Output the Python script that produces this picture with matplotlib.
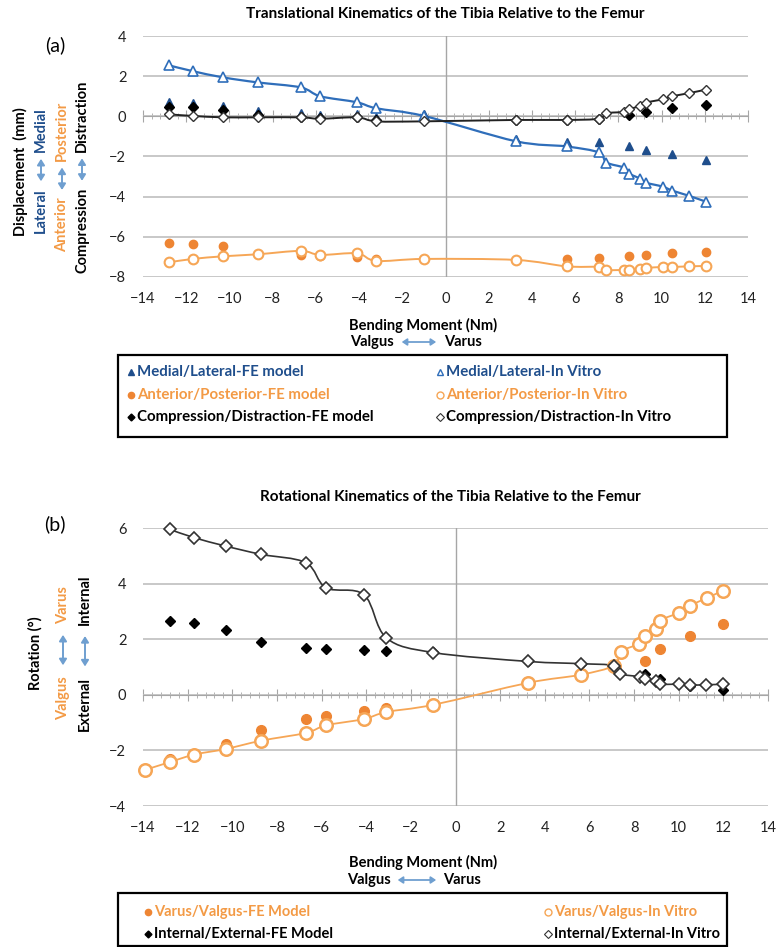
import numpy as np
import matplotlib
matplotlib.use("Agg")
import matplotlib.pyplot as plt
from matplotlib.path import Path
from matplotlib.patches import PathPatch, FancyArrowPatch, Rectangle
from matplotlib.lines import Line2D
from matplotlib.ticker import MultipleLocator, AutoMinorLocator, FixedLocator

plt.rcParams['font.family'] = ['Lato', 'DejaVu Sans']

# ---- translational kinematics (a) ----
x_iv_a = [-12.8, -11.7, -10.3, -8.7, -6.7, -5.8, -4.1, -3.2, -1.0, 3.25, 5.6, 7.1,
          7.45, 8.25, 8.5, 9.0, 9.27, 10.05, 10.5, 11.25, 12.05]
ml_iv = [2.54, 2.25, 1.94, 1.69, 1.44, 1.0, 0.7, 0.4, 0.02, -1.24, -1.5, -1.8,
         -2.3, -2.55, -2.85, -3.1, -3.3, -3.5, -3.7, -3.95, -4.25]
ap_iv = [-7.27, -7.1, -6.97, -6.87, -6.7, -6.9, -6.82, -7.2, -7.1, -7.15, -7.47, -7.5,
         -7.65, -7.65, -7.65, -7.6, -7.55, -7.5, -7.5, -7.47, -7.45]
cd_iv = [0.1, 0.02, -0.05, -0.05, -0.05, -0.12, -0.05, -0.25, -0.25, -0.18, -0.18, -0.12,
         0.15, 0.22, 0.35, 0.52, 0.68, 0.85, 1.0, 1.15, 1.33]

x_fe_a = [-12.8, -11.7, -10.3, -8.7, -6.7, -5.8, -4.1, -3.2, -1.0, 3.25, 5.6, 7.1,
          8.5, 9.27, 10.5, 12.05]
ml_fe = [0.7, 0.65, 0.52, 0.28, 0.15, 0.08, 0.12, -0.05, 0.1, -1.15, -1.3, -1.3,
         -1.5, -1.7, -1.9, -2.15]
ap_fe = [-6.3, -6.38, -6.48, -6.85, -6.9, -6.95, -7.0, -7.1, -7.1, -7.15, -7.12, -7.07,
         -6.97, -6.9, -6.82, -6.78]
cd_fe = [0.45, 0.45, 0.33, 0.05, -0.05, -0.1, -0.05, -0.2, -0.2, -0.2, -0.2, -0.15,
         0.05, 0.22, 0.42, 0.58]

# ---- rotational kinematics (b) ----
x_vv_iv = [-13.9, -12.8, -11.7, -10.3, -8.7, -6.7, -5.8, -4.1, -3.1, -1.0, 3.25, 5.6,
           7.1, 7.4, 8.2, 8.5, 8.97, 9.15, 10.0, 10.5, 11.25, 12.0]
vv_iv = [-2.7, -2.42, -2.15, -1.95, -1.65, -1.37, -1.1, -0.87, -0.62, -0.36, 0.43, 0.72,
         1.05, 1.55, 1.83, 2.1, 2.37, 2.67, 2.95, 3.2, 3.48, 3.75]
x_ie_iv = [-12.8, -11.7, -10.3, -8.7, -6.7, -5.8, -4.1, -3.1, -1.0, 3.25, 5.6, 7.1,
           7.35, 8.25, 8.47, 8.97, 9.15, 10.0, 10.5, 11.2, 12.0]
ie_iv = [5.95, 5.65, 5.35, 5.05, 4.75, 3.85, 3.6, 2.05, 1.52, 1.2, 1.12, 1.05,
         0.76, 0.65, 0.57, 0.48, 0.38, 0.38, 0.35, 0.36, 0.38]

x_fe_b = [-12.8, -11.7, -10.3, -8.7, -6.7, -5.8, -4.1, -3.1, -1.0, 3.25, 5.6, 7.1,
          8.5, 9.15, 10.5, 12.0]
vv_fe = [-2.3, -2.12, -1.77, -1.26, -0.87, -0.77, -0.58, -0.48, -0.36, 0.43, 0.72, 1.0,
         1.22, 1.65, 2.1, 2.55]
ie_fe = [2.65, 2.57, 2.33, 1.9, 1.68, 1.65, 1.6, 1.58, 1.55, 1.2, 1.12, 0.97,
         0.76, 0.57, 0.33, 0.18]

x_ticks = list(range(-14, 15, 2))

NAVY = "#1F4E8C"
BLUE = "#2F6EBA"
ORANGE_FE = "#EE8533"
ORANGE_IV = "#F6A656"
ORANGE_TXT = "#F39A45"
ARROW = "#6F9FD0"
GRID = "#BFBFBF"

W, H = 777, 947
fig = plt.figure(figsize=(W / 100, H / 100), dpi=100)


def fx(px):
    return px / W


def fy(py):
    return 1 - py / H


def smooth(ax, xs, ys, color, lw):
    # Catmull-Rom curve through the points, written as cubic Bezier segments
    p = np.column_stack([xs, ys]).astype(float)
    verts = [p[0]]
    codes = [Path.MOVETO]
    n = len(p)
    for i in range(n - 1):
        p0 = p[i - 1] if i > 0 else p[i]
        p3 = p[i + 2] if i + 2 < n else p[i + 1]
        c1 = p[i] + (p[i + 1] - p0) / 6
        c2 = p[i + 1] - (p3 - p[i]) / 6
        verts += [c1, c2, p[i + 1]]
        codes += [Path.CURVE4] * 3
    ax.add_patch(PathPatch(Path(verts, codes), fc="none", ec=color, lw=lw, zorder=3))


def style_axes(ax, xlim, ylim, ystep):
    ax.set_xlim(*xlim)
    ax.set_ylim(*ylim)
    for s in ("top", "right", "left"):
        ax.spines[s].set_visible(False)
    ax.spines["bottom"].set_position(("data", 0))
    ax.spines["bottom"].set_color("#A6A6A6")
    ax.spines["bottom"].set_zorder(1)
    ax.xaxis.set_major_locator(FixedLocator(x_ticks))
    ax.xaxis.set_minor_locator(AutoMinorLocator(5))
    ax.tick_params(axis="x", which="major", direction="inout", length=8,
                   color="#A6A6A6", labelbottom=False)
    ax.tick_params(axis="x", which="minor", direction="inout", length=4,
                   color="#A6A6A6")
    ax.yaxis.set_major_locator(MultipleLocator(ystep))
    ax.tick_params(axis="y", length=0, pad=12, labelsize=10.5, labelcolor="#222222")
    ax.grid(axis="y", color=GRID, lw=1.2)
    ax.set_axisbelow(True)
    ax.axvline(0, color="#A6A6A6", lw=1.0, zorder=1)
    sec = ax.secondary_xaxis("bottom")
    sec.spines["bottom"].set_visible(False)
    sec.xaxis.set_major_locator(FixedLocator(x_ticks))
    sec.tick_params(length=0, pad=11, labelsize=10.5, labelcolor="#222222")


def stack(x, yc, parts, fontsize=10.5, vertical=True, gap=3):
    # lay out text pieces and double-headed arrows in a row/column, in pixels
    r = fig.canvas.get_renderer()
    sizes = []
    for kind, val, col in parts:
        if kind == "t":
            t = fig.text(0, 0, val, fontsize=fontsize, fontweight="bold",
                         rotation=90 if vertical else 0)
            bb = t.get_window_extent(r)
            t.remove()
            sizes.append(bb.height if vertical else bb.width)
        else:
            sizes.append(val)
    total = sum(sizes) + gap * (len(parts) - 1)
    pos = yc + total / 2 if vertical else yc - total / 2
    for (kind, val, col), s in zip(parts, sizes):
        if vertical:
            a, b = pos, pos - s
            mid = (a + b) / 2
            if kind == "t":
                fig.text(fx(x), fy(mid), val, fontsize=fontsize, fontweight="bold",
                         color=col, rotation=90, ha="center", va="center")
            else:
                fig.add_artist(FancyArrowPatch((fx(x), fy(a)), (fx(x), fy(b)),
                                               transform=fig.transFigure,
                                               arrowstyle="<|-|>,head_length=3.5,head_width=2.2",
                                               color=col, lw=1.4))
            pos = b - gap
        else:
            a, b = pos, pos + s
            mid = (a + b) / 2
            if kind == "t":
                fig.text(fx(mid), fy(x), val, fontsize=fontsize, fontweight="bold",
                         color=col, ha="center", va="center")
            else:
                fig.add_artist(FancyArrowPatch((fx(a), fy(x)), (fx(b), fy(x)),
                                               transform=fig.transFigure,
                                               arrowstyle="<|-|>,head_length=3,head_width=2",
                                               color=col, lw=1.3))
            pos = b + gap


def legend_box(box, cols, rows, entries, fontsize=10.5):
    # framed two-column key: entries are (marker kwargs, label, colour), column-major
    x0, y0, x1, y1 = box
    fig.add_artist(Rectangle((fx(x0), fy(y1)), (x1 - x0) / W, (y1 - y0) / H,
                             transform=fig.transFigure, fc="white", ec="black",
                             lw=1.6, zorder=1))
    k = 0
    for mx in cols:
        for ry in rows:
            if k >= len(entries):
                break
            mk, label, col = entries[k]
            fig.add_artist(Line2D([fx(mx)], [fy(ry)], transform=fig.transFigure,
                                  ls="none", zorder=2, **mk))
            fig.text(fx(mx + 6), fy(ry), label, ha="left", va="center",
                     fontsize=fontsize, fontweight="bold", color=col, zorder=2)
            k += 1


# ================= (a) =================
ax1 = fig.add_axes([fx(143), fy(277), (748 - 143) / W, (277 - 36) / H])
style_axes(ax1, (-14, 14), (-8, 4), 2)

ax1.plot(x_fe_a, ml_fe, ls="none", marker="^", ms=6, color=NAVY, zorder=4, clip_on=False)
smooth(ax1, x_iv_a, ml_iv, BLUE, 1.6)
ax1.plot(x_iv_a, ml_iv, ls="none", marker="^", ms=6.5, mfc="white", mec=BLUE,
         mew=1.2, zorder=5, clip_on=False)
ax1.plot(x_fe_a, ap_fe, ls="none", marker="o", ms=6, color=ORANGE_FE, zorder=4, clip_on=False)
smooth(ax1, x_iv_a, ap_iv, ORANGE_IV, 1.4)
ax1.plot(x_iv_a, ap_iv, ls="none", marker="o", ms=7, mfc="white", mec=ORANGE_IV,
         mew=1.5, zorder=5, clip_on=False)
ax1.plot(x_fe_a, cd_fe, ls="none", marker="D", ms=5, color="black", zorder=4, clip_on=False)
smooth(ax1, x_iv_a, cd_iv, "#222222", 1.4)
ax1.plot(x_iv_a, cd_iv, ls="none", marker="D", ms=5, mfc="white", mec="#333333",
         mew=1.0, zorder=5, clip_on=False)

fig.text(fx(445), fy(14), "Translational Kinematics of the Tibia Relative to the Femur",
         ha="center", va="center", fontsize=11, fontweight="bold")
fig.text(fx(55), fy(45), "(a)", ha="center", va="center", fontsize=14)

stack(20, 172, [("t", "Displacement  (mm)", "black")])
stack(41, 170, [("t", "Lateral", NAVY), ("a", 28, ARROW), ("t", "Medial", NAVY)], gap=4)
stack(62, 176, [("t", "Anterior", ORANGE_TXT), ("a", 28, ARROW),
                ("t", "Posterior", ORANGE_TXT)], gap=4)
stack(82, 176, [("t", "Compression", "black"), ("a", 28, ARROW),
                ("t", "Distraction", "black")], gap=4)

fig.text(fx(423), fy(325), "Bending Moment (Nm)", ha="center", va="center",
         fontsize=10.5, fontweight="bold")
stack(342, 416, [("t", "Valgus", "black"), ("a", 40, ARROW), ("t", "Varus", "black")],
      vertical=False, gap=5)

legend_box((118, 355, 727, 437), [131, 440], [372, 395, 417], [
    (dict(marker="^", ms=4.5, color=NAVY), "Medial/Lateral-FE model", NAVY),
    (dict(marker="o", ms=4.5, color=ORANGE_FE), "Anterior/Posterior-FE model", ORANGE_TXT),
    (dict(marker="D", ms=3.5, color="black"), "Compression/Distraction-FE model", "black"),
    (dict(marker="^", ms=5, mfc="white", mec=BLUE, mew=1), "Medial/Lateral-In Vitro", NAVY),
    (dict(marker="o", ms=5, mfc="white", mec=ORANGE_IV, mew=1), "Anterior/Posterior-In Vitro",
     ORANGE_TXT),
    (dict(marker="D", ms=4, mfc="white", mec="#333333", mew=0.8),
     "Compression/Distraction-In Vitro", "black"),
], fontsize=10.8)

# ================= (b) =================
ax2 = fig.add_axes([fx(143), fy(806), (768 - 143) / W, (806 - 528) / H])
style_axes(ax2, (-14, 14), (-4, 6), 2)

ax2.plot(x_fe_b, vv_fe, ls="none", marker="o", ms=7, color=ORANGE_FE, zorder=4, clip_on=False)
smooth(ax2, x_vv_iv, vv_iv, ORANGE_IV, 1.3)
ax2.plot(x_vv_iv, vv_iv, ls="none", marker="o", ms=9, mfc="white", mec=ORANGE_IV,
         mew=1.8, zorder=5, clip_on=False)
ax2.plot(x_fe_b, ie_fe, ls="none", marker="D", ms=5, color="black", zorder=4, clip_on=False)
smooth(ax2, x_ie_iv, ie_iv, "#333333", 1.2)
ax2.plot(x_ie_iv, ie_iv, ls="none", marker="D", ms=6, mfc="white", mec="#333333",
         mew=1.2, zorder=5, clip_on=False)

fig.text(fx(450), fy(497), "Rotational Kinematics of the Tibia Relative to the Femur",
         ha="center", va="center", fontsize=11, fontweight="bold")
fig.text(fx(55), fy(524), "(b)", ha="center", va="center", fontsize=14)

stack(35, 653, [("t", "Rotation (°)", "black")])
stack(63, 653, [("t", "Valgus", ORANGE_TXT), ("a", 36, ARROW), ("t", "Varus", ORANGE_TXT)],
      gap=8)
stack(85, 653, [("t", "External", "black"), ("a", 36, ARROW), ("t", "Internal", "black")],
      gap=8)

fig.text(fx(423), fy(862), "Bending Moment (Nm)", ha="center", va="center",
         fontsize=10.5, fontweight="bold")
stack(880, 414, [("t", "Valgus", "black"), ("a", 44, ARROW), ("t", "Varus", "black")],
      vertical=False, gap=4)

legend_box((118, 893, 727, 946), [148, 548], [912, 934], [
    (dict(marker="o", ms=4.5, color=ORANGE_FE), "Varus/Valgus-FE Model", ORANGE_TXT),
    (dict(marker="D", ms=3.5, color="black"), "Internal/External-FE Model", "black"),
    (dict(marker="o", ms=5, mfc="white", mec=ORANGE_IV, mew=1), "Varus/Valgus-In Vitro",
     ORANGE_TXT),
    (dict(marker="D", ms=4, mfc="white", mec="#333333", mew=0.8),
     "Internal/External-In Vitro", "black"),
], fontsize=10.5)

fig.savefig("out.png", dpi=100)
